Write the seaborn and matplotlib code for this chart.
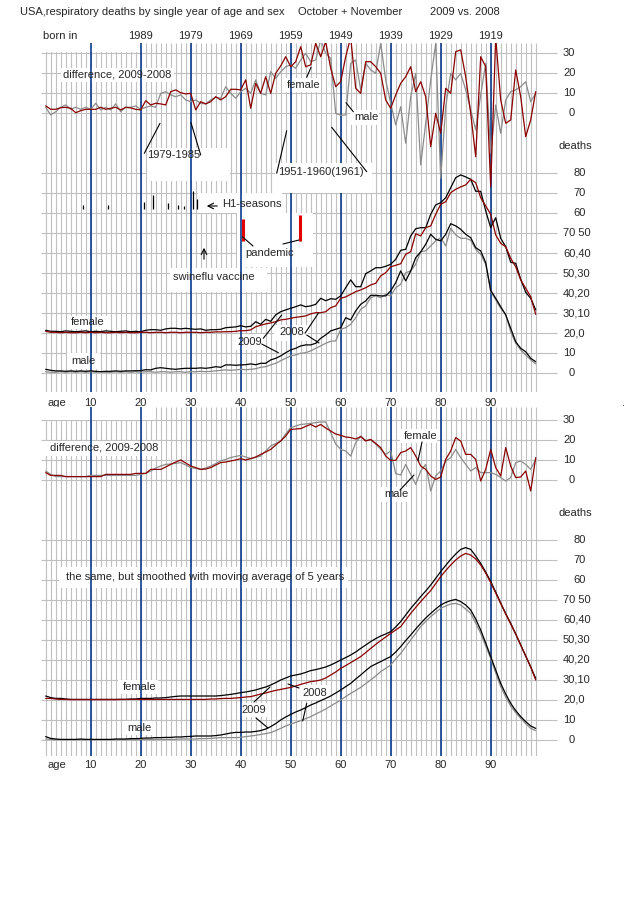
import matplotlib
matplotlib.use("Agg")
import matplotlib.pyplot as plt
from matplotlib.patches import Rectangle
import seaborn as sns

# ---------------- data ----------------
ages = list(range(1, 100))

# raw, single year of age
female_2009 = [1.5, 1.0, 1.0, 0.8, 1.2, 1.0, 0.8, 1.0, 1.2, 0.8,
               1.0, 0.8, 1.2, 1.0, 0.8, 1.0, 1.2, 0.8, 1.0, 0.8,
               1.5, 1.8, 1.8, 1.5, 2.2, 2.5, 2.5, 2.2, 2.5, 2.2,
               2.0, 2.2, 1.5, 1.8, 1.8, 2.0, 2.8, 3.0, 3.2, 3.8,
               3.2, 3.5, 5.8, 4.5, 7.0, 6.0, 9.2, 10.8, 11.7, 12.5,
               13.3, 14.2, 13.3, 13.7, 14.5, 17.5, 16.3, 17.3, 17.0, 18.7,
               22.8, 26.7, 23.3, 23.3, 29.8, 31.2, 32.8, 32.8, 33.5, 34.5,
               37.0, 41.5, 42.0, 48.7, 52.3, 52.8, 52.8, 59.5, 64.2, 65.3,
               67.8, 72.8, 77.8, 79.2, 78.2, 77.0, 71.0, 71.0, 61.2, 52.8,
               57.8, 47.5, 43.3, 35.5, 35.0, 27.0, 20.5, 17.5, 11.7]
female_2008 = [1.0, 0.5, 0.5, 0.3, 0.5, 0.3, 0.3, 0.5, 0.3, 0.5,
               0.3, 0.5, 0.3, 0.3, 0.5, 0.3, 0.5, 0.3, 0.3, 0.5,
               0.5, 0.3, 0.5, 0.5, 0.3, 0.5, 0.5, 0.3, 0.5, 0.5,
               0.5, 0.3, 0.5, 0.5, 0.7, 0.7, 0.8, 0.8, 1.0, 1.3,
               1.3, 1.7, 3.3, 4.0, 4.7, 5.2, 5.8, 6.7, 7.0, 7.5,
               8.0, 8.3, 8.7, 9.7, 10.3, 10.3, 10.8, 12.8, 13.7, 17.5,
               18.2, 19.5, 20.8, 21.7, 22.8, 24.2, 25.0, 28.7, 30.3, 33.3,
               34.0, 34.8, 39.5, 40.8, 49.8, 48.7, 52.8, 53.7, 59.5, 64.5,
               65.8, 70.3, 72.0, 73.2, 74.2, 77.0, 75.3, 67.8, 63.7, 59.5,
               49.2, 45.0, 43.3, 37.5, 33.3, 26.7, 22.5, 18.3, 9.5]
male_2009 = [2.0, 1.5, 1.2, 1.2, 1.0, 1.2, 1.0, 1.2, 1.0, 1.2,
             1.0, 0.8, 1.0, 1.0, 1.2, 1.0, 1.2, 1.2, 1.3, 1.3,
             1.8, 1.7, 2.5, 2.8, 2.5, 2.2, 2.0, 2.3, 2.5, 2.5,
             2.5, 2.7, 2.5, 2.8, 3.3, 3.0, 4.2, 4.2, 4.0, 4.2,
             4.3, 4.7, 4.3, 5.0, 5.0, 6.7, 7.5, 8.7, 10.3, 11.7,
             12.5, 13.7, 14.2, 14.2, 15.0, 17.5, 19.2, 21.2, 22.0, 22.8,
             27.8, 26.7, 31.2, 34.5, 36.2, 39.0, 39.0, 38.7, 38.7, 41.2,
             45.3, 51.2, 46.2, 51.2, 57.8, 60.7, 64.5, 69.5, 67.0, 66.2,
             69.5, 74.8, 73.7, 72.0, 69.5, 67.8, 62.8, 61.2, 55.3, 41.5,
             37.5, 33.3, 29.2, 22.5, 15.8, 12.5, 10.8, 7.5, 5.8]
male_2008 = [0.8, 0.5, 0.5, 0.8, 0.5, 0.8, 0.5, 0.8, 0.5, 0.8,
             0.5, 0.8, 0.5, 0.5, 0.8, 0.5, 0.8, 0.5, 0.8, 0.5,
             0.8, 0.8, 0.5, 0.8, 0.8, 0.5, 0.8, 0.8, 0.5, 0.8,
             0.8, 1.0, 0.8, 1.0, 1.2, 1.5, 1.7, 1.5, 1.7, 2.0,
             1.8, 2.0, 2.3, 3.0, 3.3, 4.2, 5.0, 6.3, 7.5, 8.7,
             9.2, 10.0, 10.3, 11.2, 12.5, 13.7, 15.0, 16.0, 16.2, 22.0,
             22.8, 24.5, 27.8, 32.0, 33.7, 37.8, 38.7, 37.8, 39.5, 38.7,
             42.8, 44.5, 50.3, 51.2, 54.5, 60.8, 61.2, 63.7, 66.2, 67.8,
             63.7, 72.5, 69.2, 67.5, 67.5, 66.5, 62.0, 59.5, 54.5, 41.0,
             36.7, 32.5, 29.5, 20.8, 15.0, 11.7, 9.2, 6.7, 4.7]
diff_female = [3.7, 2.0, 2.0, 2.8, 3.0, 2.5, 0.3, 1.3, 2.0, 2.0,
               2.0, 3.0, 2.0, 2.5, 3.0, 1.7, 3.0, 2.7, 2.0, 1.7,
               6.3, 4.2, 5.0, 4.7, 4.2, 10.8, 11.7, 10.3, 9.7, 10.0,
               1.7, 5.8, 4.7, 5.8, 8.3, 6.7, 8.3, 12.0, 12.0, 11.7,
               16.7, 2.5, 15.0, 10.0, 18.3, 10.0, 20.0, 23.7, 28.3, 23.3,
               25.8, 33.3, 23.3, 24.2, 35.0, 28.3, 35.8, 22.5, 13.3, 15.8,
               28.3, 38.0, 12.5, 10.0, 25.8, 25.8, 23.3, 20.0, 6.7, 2.5,
               9.2, 15.0, 18.3, 23.3, 10.8, 15.8, 8.3, -16.7, 0.0, -10.0,
               12.5, 10.0, 30.8, 31.7, 18.3, 0.0, -21.7, 28.3, 23.3, -36.7,
               38.0, 6.7, -5.0, -3.3, 21.7, 8.3, -11.7, -3.3, 10.8]
diff_male = [3.0, -0.8, 0.8, 3.0, 4.2, 2.0, 3.0, 2.0, 3.0, 2.0,
             5.0, 1.7, 3.0, 1.7, 4.7, 0.8, 3.0, 3.0, 3.7, 2.0,
             3.0, 3.7, 3.0, 10.0, 10.8, 9.2, 8.3, 9.2, 6.7, 5.8,
             6.7, 5.0, 4.7, 6.7, 8.0, 7.5, 13.3, 10.0, 7.5, 10.8,
             12.5, 10.0, 16.7, 10.0, 9.2, 20.8, 17.5, 20.8, 23.3, 24.2,
             22.5, 26.7, 30.0, 25.8, 26.7, 36.7, 30.0, 27.5, 0.0, -1.0,
             -0.8, 25.0, 26.7, 11.7, 25.0, 21.7, 20.0, 35.0, 16.7, 5.0,
             -5.8, 3.3, -15.0, 8.3, 20.0, -25.8, -5.0, 16.7, 35.0, -32.5,
             3.3, 20.0, 16.7, 20.0, 11.7, 1.7, -8.3, 9.2, 25.0, -20.0,
             4.2, -10.0, 6.7, 10.8, 11.7, 13.3, 15.8, 5.8, 10.0]

# moving average of 5 years
smooth_female_2009 = [2.0, 1.2, 0.8, 0.8, 0.5, 0.3, 0.3, 0.3, 0.3, 0.3,
                      0.3, 0.3, 0.3, 0.3, 0.3, 0.3, 0.3, 0.5, 0.5, 0.8,
                      0.8, 0.8, 1.0, 1.0, 1.2, 1.5, 1.8, 2.0, 2.0, 2.0,
                      2.0, 2.0, 2.0, 2.0, 2.0, 2.2, 2.5, 2.8, 3.2, 3.7,
                      4.0, 4.5, 5.0, 5.8, 6.5, 7.5, 8.7, 10.0, 11.0, 12.0,
                      12.5, 13.0, 13.8, 14.7, 15.2, 15.8, 16.5, 17.5, 18.7, 20.0,
                      21.2, 22.5, 24.0, 25.8, 27.5, 29.2, 30.7, 32.0, 33.0, 34.2,
                      36.5, 39.2, 42.5, 45.8, 48.7, 51.7, 54.5, 57.5, 60.8, 64.2,
                      67.3, 70.3, 73.0, 75.3, 76.2, 75.3, 72.0, 68.3, 64.0, 59.2,
                      54.0, 48.5, 43.2, 38.3, 33.0, 27.5, 22.0, 16.5, 10.8]
smooth_female_2008 = [0.8, 0.8, 0.5, 0.3, 0.3, 0.2, 0.2, 0.2, 0.2, 0.2,
                      0.2, 0.2, 0.2, 0.2, 0.2, 0.3, 0.3, 0.3, 0.3, 0.3,
                      0.3, 0.3, 0.3, 0.3, 0.3, 0.3, 0.3, 0.3, 0.3, 0.3,
                      0.3, 0.3, 0.3, 0.5, 0.5, 0.7, 0.8, 0.8, 1.0, 1.2,
                      1.5, 1.7, 2.3, 3.0, 3.5, 4.2, 4.8, 5.3, 5.8, 6.3,
                      7.0, 7.8, 8.5, 9.2, 9.5, 10.0, 11.0, 12.5, 14.0, 15.8,
                      17.2, 18.7, 20.2, 21.7, 23.7, 25.8, 27.8, 29.7, 31.5, 33.3,
                      35.0, 36.7, 40.0, 43.3, 46.3, 49.2, 52.0, 54.7, 58.2, 61.7,
                      64.7, 67.5, 70.0, 72.0, 73.3, 72.5, 70.5, 67.5, 63.5, 58.7,
                      53.5, 48.3, 43.0, 38.0, 33.0, 27.5, 22.0, 16.5, 10.0]
smooth_male_2009 = [1.7, 0.8, 0.5, 0.3, 0.3, 0.3, 0.3, 0.5, 0.3, 0.3,
                    0.3, 0.3, 0.3, 0.3, 0.5, 0.5, 0.5, 0.7, 0.7, 0.8,
                    1.0, 1.0, 1.2, 1.2, 1.3, 1.3, 1.5, 1.5, 1.7, 1.8,
                    2.0, 2.0, 2.0, 2.0, 2.2, 2.5, 3.0, 3.5, 3.8, 3.8,
                    4.0, 4.0, 4.3, 4.7, 5.5, 6.7, 8.2, 10.0, 11.5, 12.8,
                    14.0, 15.0, 16.2, 17.5, 18.5, 19.7, 20.8, 22.0, 23.5, 25.0,
                    26.7, 28.3, 30.5, 32.5, 34.7, 36.7, 38.0, 39.2, 40.5, 41.7,
                    44.0, 46.7, 49.7, 52.5, 55.5, 58.3, 61.0, 63.3, 65.5, 67.5,
                    68.8, 69.7, 70.3, 69.2, 67.5, 65.0, 60.5, 55.0, 48.5, 41.7,
                    35.0, 28.3, 23.0, 18.3, 14.7, 11.7, 9.2, 7.0, 5.8]
smooth_male_2008 = [0.5, 0.3, 0.2, 0.2, 0.2, 0.2, 0.2, 0.2, 0.2, 0.2,
                    0.2, 0.2, 0.2, 0.2, 0.2, 0.2, 0.2, 0.2, 0.2, 0.2,
                    0.3, 0.3, 0.3, 0.3, 0.3, 0.3, 0.3, 0.5, 0.5, 0.5,
                    0.5, 0.7, 0.7, 0.8, 1.0, 1.2, 1.2, 1.2, 1.2, 1.3,
                    1.7, 2.0, 2.3, 2.8, 3.2, 3.7, 4.7, 5.8, 7.0, 8.0,
                    8.8, 9.7, 10.7, 11.7, 13.0, 14.2, 15.5, 17.0, 18.5, 20.0,
                    21.7, 23.3, 24.8, 26.3, 28.2, 30.0, 32.0, 34.2, 35.8, 37.5,
                    40.5, 43.3, 46.7, 50.0, 53.3, 56.7, 59.3, 61.7, 63.8, 65.8,
                    67.0, 68.0, 68.3, 67.5, 65.5, 63.3, 58.5, 53.3, 47.0, 40.8,
                    33.5, 26.7, 21.5, 17.0, 13.7, 10.8, 8.2, 5.8, 4.7]
smooth_diff_female = [3.7, 2.3, 2.3, 2.3, 1.7, 1.7, 1.7, 1.7, 1.7, 1.7,
                      1.7, 1.7, 2.8, 2.8, 2.8, 2.8, 2.8, 2.8, 3.3, 3.3,
                      3.3, 5.3, 5.3, 5.3, 6.5, 7.8, 9.0, 10.0, 8.5, 7.0,
                      6.2, 5.3, 5.5, 6.2, 7.5, 8.7, 9.0, 9.5, 10.0, 10.7,
                      10.0, 10.7, 11.5, 12.8, 14.0, 15.3, 17.5, 19.5, 22.0, 25.3,
                      25.5, 25.7, 26.8, 27.8, 26.5, 27.8, 26.0, 24.5, 23.0, 22.3,
                      21.5, 21.2, 20.5, 21.7, 19.5, 20.3, 18.3, 16.2, 12.0, 9.8,
                      9.8, 13.7, 14.5, 16.2, 12.0, 7.0, 5.3, 2.0, 0.3, 1.5,
                      10.3, 14.5, 21.2, 19.5, 12.8, 12.8, 10.3, -0.5, 5.3, 15.3,
                      6.2, 2.0, 16.2, 7.0, 1.2, 1.5, 4.5, -5.5, 11.2]
smooth_diff_male = [4.5, 2.8, 1.7, 1.7, 1.7, 1.7, 1.7, 1.7, 1.7, 2.3,
                    2.3, 2.3, 2.3, 2.3, 2.3, 2.3, 2.3, 2.3, 2.3, 2.8,
                    3.3, 4.5, 6.0, 7.0, 7.8, 8.0, 8.3, 8.7, 7.5, 6.2,
                    5.8, 5.3, 6.0, 7.0, 8.2, 9.5, 10.3, 11.2, 11.8, 12.3,
                    11.5, 10.7, 11.3, 12.0, 14.5, 17.0, 18.3, 19.5, 23.0, 26.2,
                    27.0, 27.8, 28.0, 28.3, 28.7, 29.0, 29.0, 23.7, 18.0, 15.3,
                    14.5, 12.0, 18.7, 22.0, 19.8, 20.0, 18.0, 15.3, 12.8, 14.5,
                    3.2, 2.5, 7.8, 2.8, -2.2, 4.5, 7.8, -5.5, 2.0, 4.5,
                    9.5, 11.2, 15.3, 11.2, 7.8, 4.5, 6.2, 3.7, 3.7, 3.7,
                    2.8, 1.2, -0.5, 1.2, 8.7, 9.5, 7.8, 5.3, 10.3]

# H1 seasons (ticks) and pandemic years, by age
h1_ages = [8.5, 13.5, 20.7, 22.4, 25.4, 27.4, 28.6, 30.4, 31.2]
h1_heights = [2, 2, 3.5, 7, 3, 2, 1.5, 9, 5]
pandemic_ages = [40.4, 51.9]
pandemic_heights = [11, 13]

decades = [10, 20, 30, 40, 50, 60, 70, 80, 90]
born_in = ["1989", "1979", "1969", "1959", "1949", "1939", "1929", "1919"]
diff_ticks = [0, 10, 20, 30]
death_ticks = [0, 10, 20, 30, 40, 50, 60, 70, 80, 90, 100]
death_labels = ["0", "10", "20,0", "30,10", "40,20", "50,30", "60,40",
                "70 50", "60", "70", "80"]

F_OFF = 20    # female curves sit 20 units up (second number on the right)
D_OFF = 130   # zero line of the difference panel

# ---------------- style ----------------
sns.set_style("white")
plt.rcParams["font.family"] = ["Liberation Sans", "DejaVu Sans"]
FS = 8.0
GRID = "#c0c0c0"
BLUE = "#0b3d8c"
RED = "#8b0000"
GRAY = "#8c8c8c"

W, H = 640, 900
X0 = 40.7          # pixel of age 0, 5 px per year, 2 px per unit
fig = plt.figure(figsize=(6.4, 9), dpi=100)


def fx(x):
    return x / W


def fy(y):
    return 1 - y / H


def make_axes(top, bottom, zero):
    ax = fig.add_axes([fx(40), fy(bottom), 600 / W, (bottom - top) / H])
    ax.set_xlim((40 - X0) / 5, (640 - X0) / 5)
    ax.set_ylim((zero - bottom) / 2, (zero - top) / 2)
    ax.axis("off")
    return ax


def white(ax, x0, y0, x1, y1, z=1.0):
    ax.add_patch(Rectangle((fx(x0), fy(y1)), (x1 - x0) / W, (y1 - y0) / H,
                           transform=fig.transFigure, fc="white", ec="none",
                           zorder=z))


def label(ax, s, x, y, **kw):
    ax.text(fx(x), fy(y), s, transform=fig.transFigure, ha="left",
            va="center", fontsize=FS, zorder=6, **kw)


def leader(ax, x0, y0, x1, y1):
    ax.plot([fx(x0), fx(x1)], [fy(y0), fy(y1)], transform=fig.transFigure,
            color="black", lw=0.8, zorder=6, clip_on=False)


def panel(ax, f09, f08, m09, m08, dfem, dmal, age_y):
    lo, hi = ax.get_ylim()
    ax.vlines(ages, lo, hi, color=GRID, lw=0.8, zorder=0)
    ax.hlines(death_ticks + [D_OFF + d for d in diff_ticks],
              0, (557 - X0) / 5, color=GRID, lw=0.8, zorder=0)
    ax.vlines(decades, lo, hi, color=BLUE, lw=1.2, zorder=1.5)

    series = [
        (dmal, D_OFF, GRAY), (dfem, D_OFF, RED),
        (m08, 0, GRAY), (m09, 0, "black"),
        (f09, F_OFF, "black"), (f08, F_OFF, RED),
    ]
    for vals, off, col in series:
        sns.lineplot(x=ages, y=[v + off for v in vals], ax=ax, color=col,
                     lw=0.9, estimator=None, sort=False, legend=False,
                     zorder=3)

    # right-hand scale labels
    xr = (563 - X0) / 5
    for d in diff_ticks:
        ax.text(xr if d else xr + 1.2, D_OFF + d, str(d), fontsize=FS,
                va="center", ha="left")
    for v, s in zip(death_ticks, death_labels):
        shift = 2.0 if s in ("60", "70", "80") else (1.2 if s == "0" else 0)
        ax.text(xr + shift, v, s, fontsize=FS, va="center", ha="left")
    ax.text((558 - X0) / 5, 113.5, "deaths", fontsize=FS, va="center",
            ha="left")

    # age axis
    label(ax, "age", 48, age_y)
    for a in decades:
        ax.text(fx(X0 + 5 * a), fy(age_y), str(a), transform=fig.transFigure,
                ha="center", va="center", fontsize=FS)


# ---------------- top half: single years ----------------
ax1 = make_axes(43, 392, 373.3)
panel(ax1, female_2009, female_2008, male_2009, male_2008,
      diff_female, diff_male, 403)

fig.text(fx(20), fy(12), "USA,respiratory deaths by single year of age and sex",
         fontsize=FS, va="center")
fig.text(fx(298), fy(12), "October + November", fontsize=FS, va="center")
fig.text(fx(430), fy(12), "2009 vs. 2008", fontsize=FS, va="center")
fig.text(fx(43), fy(36), "born in", fontsize=FS, va="center")
for a, yr in zip(decades[1:], born_in):
    fig.text(fx(X0 + 5 * a), fy(36), yr, fontsize=FS, va="center",
             ha="center")

white(ax1, 40, 40, 145, 52)
white(ax1, 61, 68, 174, 82)
white(ax1, 282, 78, 321, 92)
white(ax1, 350, 110, 379, 125)
white(ax1, 147, 148, 230, 181)
white(ax1, 275, 163, 372, 193, z=2)
white(ax1, 198, 193, 282, 213)
white(ax1, 237, 213, 313, 267)
white(ax1, 170, 268, 267, 292)
white(ax1, 67, 316, 108, 329)
white(ax1, 67, 353, 100, 369)
white(ax1, 233, 334, 266, 350)
white(ax1, 274, 325, 308, 341)

label(ax1, "difference, 2009-2008", 63, 74.5)
label(ax1, "female", 287, 85)
label(ax1, "male", 354, 117)
label(ax1, "1979-1985", 147, 155.5)
label(ax1, "1951-1960(1961)", 278, 172)
label(ax1, "H1-seasons", 222, 204)
label(ax1, "pandemic", 245, 253)
label(ax1, "swineflu vaccine", 173, 277)
label(ax1, "female", 71, 322)
label(ax1, "male", 71, 361)
label(ax1, "2009", 237, 342)
label(ax1, "2008", 279, 332)

leader(ax1, 306.7, 77.3, 311, 67.3)
leader(ax1, 353.3, 111.7, 346, 102.7)
leader(ax1, 144.3, 153.3, 160, 123.3)
leader(ax1, 200.7, 155, 191, 122.7)
leader(ax1, 276.7, 173.3, 286.7, 130.7)
leader(ax1, 366.7, 171.7, 331.7, 127.3)
leader(ax1, 242.7, 237, 253, 246)
leader(ax1, 283, 244, 299, 240)
leader(ax1, 263.3, 338.3, 281.7, 315)
leader(ax1, 261.7, 344, 278.3, 352.7)
leader(ax1, 305, 333.3, 318.3, 313.3)
leader(ax1, 306.7, 335, 319, 343)

ax1.annotate("", xy=(fx(204), fy(206)), xytext=(fx(220), fy(206)),
             xycoords="figure fraction", textcoords="figure fraction",
             arrowprops=dict(arrowstyle="->", lw=0.8, color="black"))
ax1.annotate("", xy=(fx(204), fy(245)), xytext=(fx(204), fy(262)),
             xycoords="figure fraction", textcoords="figure fraction",
             arrowprops=dict(arrowstyle="->", lw=0.8, color="black"))

h1_base = 82.2
ax1.vlines(h1_ages, h1_base, [h1_base + h for h in h1_heights],
           color="black", lw=0.9, zorder=4)
p_base = 66.2
ax1.vlines(pandemic_ages, p_base, [p_base + h for h in pandemic_heights],
           color="#e00000", lw=2.2, zorder=4)

# ---------------- bottom half: smoothed ----------------
ax2 = make_axes(407, 756, 740)
panel(ax2, smooth_female_2009, smooth_female_2008, smooth_male_2009,
      smooth_male_2008, smooth_diff_female, smooth_diff_male, 765)

white(ax2, 40, 400, 152, 420)
white(ax2, 45, 441, 161, 456)
white(ax2, 400, 429, 437, 443)
white(ax2, 380, 487, 408, 502)
white(ax2, 59, 567, 348, 588)
white(ax2, 118, 680, 158, 694)
white(ax2, 122, 721, 152, 735)
white(ax2, 238, 703, 267, 717)
white(ax2, 298, 685, 330, 700)

label(ax2, "difference, 2009-2008", 49.5, 448)
label(ax2, "female", 404, 436)
label(ax2, "male", 384, 494)
label(ax2, "the same, but smoothed with moving average of 5 years", 66, 577)
label(ax2, "female", 123, 687)
label(ax2, "male", 127, 728)
label(ax2, "2009", 241, 710)
label(ax2, "2008", 302, 693)

leader(ax2, 422, 442, 418, 460.7)
leader(ax2, 400, 490, 414, 475)
leader(ax2, 254, 702, 270, 687)
leader(ax2, 256, 718, 268, 728)
leader(ax2, 299, 688, 288, 684)
leader(ax2, 306.7, 703.4, 302.7, 721)

fig.text(fx(622), fy(403), ".", fontsize=FS, va="center")

fig.savefig("out.png", dpi=100)
